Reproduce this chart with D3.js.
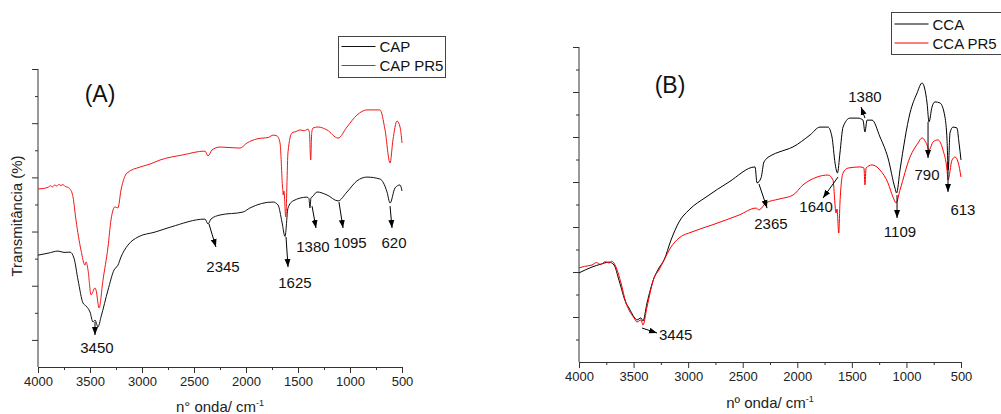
<!DOCTYPE html>
<html>
<head>
<meta charset="utf-8">
<script src="https://cdn.jsdelivr.net/npm/d3@7"></script>
<style>
  body { margin: 0; background: #fff; }
  svg { display: block; font-family: "Liberation Sans", Arial, sans-serif; }
</style>
</head>
<body>
<svg id="chart" width="1001" height="414"></svg>
<script>
// Wavenumber axis (cm-1), shared by both panels
const xTickLabels = [4000, 3500, 3000, 2500, 2000, 1500, 1000, 500];
const xMinorTicks = [3750, 3250, 2750, 2250, 1750, 1250, 750];

// Transmittance ticks (no labels on the original axis)
const yMajorA = [110, 90, 70, 50, 30, 10];
const yMinorA = [100, 80, 60, 40, 20];
const yMajorB = [140, 120, 100, 80, 60, 40, 20];
const yMinorB = [130, 110, 90, 70, 50, 30, 10];

// Panel A spectra: [wavenumber, transmittance]
const capSeries = [[4000,41.3],[3904,42.0],[3808,42.8],[3750,42.3],[3692,42.4],[3654,40.2],[3615,32.1],[3567,23.6],[3538,22.5],[3500,20.3],[3471,16.6],[3452,17.3],[3423,14.8],[3394,18.5],[3327,28.4],[3269,35.8],[3231,37.6],[3202,40.6],[3135,45.0],[3038,48.0],[2875,49.8],[2721,51.7],[2394,54.6],[2365,52.8],[2337,54.6],[2250,56.1],[2029,57.2],[1962,58.7],[1740,60.9],[1692,59.8],[1654,53.5],[1625,48.2],[1596,58.7],[1548,61.3],[1414,62.7],[1395,62.2],[1385,58.7],[1375,62.5],[1365,62.7],[1317,64.6],[1221,63.5],[1115,61.3],[1029,64.6],[933,68.7],[837,70.1],[712,69.4],[644,64.6],[615,60.5],[567,66.1],[519,67.2],[500,65.0]];
const capPr5Series = [[4000,65.7],[3950,65.9],[3904,66.3],[3880,66.9],[3860,66.5],[3840,67.2],[3820,66.8],[3800,67.4],[3780,67.0],[3760,67.3],[3740,66.7],[3712,66.3],[3690,65.6],[3663,62.7],[3635,54.3],[3587,43.2],[3548,37.6],[3538,38.8],[3519,35.8],[3490,26.6],[3452,29.2],[3442,28.4],[3413,21.8],[3375,32.1],[3327,44.3],[3298,54.3],[3260,59.1],[3231,58.7],[3202,65.3],[3144,71.6],[3019,73.8],[2923,74.9],[2827,76.4],[2606,78.3],[2394,79.7],[2365,77.9],[2327,80.1],[2250,81.2],[2058,80.8],[1990,82.7],[1894,84.2],[1780,84.8],[1740,85.6],[1702,85.3],[1673,82.7],[1648,66.0],[1642,63.5],[1635,65.0],[1618,55.4],[1596,79.4],[1558,86.4],[1520,86.9],[1481,87.5],[1440,87.2],[1404,87.8],[1390,86.5],[1378,76.4],[1368,86.5],[1356,88.2],[1308,88.6],[1221,87.5],[1115,84.5],[1029,88.6],[933,93.0],[837,94.9],[712,94.9],[663,87.5],[615,75.3],[587,83.8],[548,90.8],[519,88.6],[500,82.7]];

// Panel B spectra: [wavenumber, transmittance]
const ccaSeries = [[4000,39.6],[3881,42.2],[3800,43.5],[3725,44.4],[3679,43.1],[3634,36.4],[3569,26.2],[3542,24.0],[3496,20.0],[3469,18.7],[3432,19.6],[3414,18.2],[3377,26.2],[3313,37.3],[3267,41.8],[3221,45.3],[3157,54.2],[3084,62.2],[2992,67.6],[2836,73.3],[2626,80.0],[2387,86.7],[2369,79.6],[2332,81.8],[2305,88.9],[2232,92.0],[2168,93.3],[2039,95.6],[1883,100.9],[1792,104.4],[1719,104.4],[1682,100.0],[1654,88.4],[1632,84.0],[1609,92.9],[1581,104.4],[1517,108.4],[1444,108.4],[1398,107.5],[1380,102.2],[1361,107.5],[1315,107.5],[1242,100.0],[1169,90.7],[1105,77.3],[1090,75.1],[1059,85.3],[967,110.7],[903,119.5],[857,124.0],[811,115.1],[793,106.7],[766,113.3],[738,115.6],[692,115.1],[647,108.9],[628,98.7],[617,85.3],[601,101.8],[573,104.4],[537,104.0],[518,97.3],[500,89.8]];
const ccaPr5Series = [[4000,41.8],[3950,42.5],[3881,43.1],[3840,44.2],[3800,43.3],[3760,44.6],[3725,44.0],[3700,44.8],[3661,42.2],[3615,35.1],[3569,26.2],[3542,23.1],[3496,19.6],[3469,17.8],[3432,18.7],[3414,16.4],[3377,24.4],[3313,37.3],[3267,40.9],[3221,45.3],[3157,51.1],[3084,55.1],[2965,57.8],[2781,60.9],[2534,65.3],[2378,68.4],[2351,67.6],[2287,70.7],[2168,72.4],[2039,74.2],[1948,78.7],[1819,82.2],[1719,83.1],[1673,80.9],[1645,66.2],[1636,68.0],[1620,57.3],[1609,70.7],[1581,84.0],[1535,86.2],[1425,86.7],[1389,86.2],[1380,78.7],[1370,86.2],[1315,87.6],[1242,85.3],[1169,79.6],[1123,73.3],[1095,70.7],[1059,76.4],[967,91.1],[894,97.3],[857,99.6],[811,96.4],[793,94.2],[756,97.8],[711,98.7],[665,94.2],[628,85.3],[619,80.9],[582,89.8],[555,91.1],[527,88.9],[500,82.2]];

// Band assignments: arrow tail, arrow tip and label anchor in axis units
const bandsA = [
  { label: "3450", from: [3452, 16.6], to: [3452, 11.8], at: [3433, 5.2] },
  { label: "2345", from: [2356, 52.8], to: [2289, 44.3], at: [2221, 35.1] },
  { label: "1625", from: [1615, 48.0], to: [1596, 36.9], at: [1529, 29.2] },
  { label: "1380", from: [1365, 59.4], to: [1327, 51.3], at: [1356, 42.4] },
  { label: "1095", from: [1106, 60.9], to: [1067, 51.3], at: [1000, 43.9] },
  { label: "620",  from: [615, 59.4],  to: [596, 51.3],  at: [577, 43.9] }
];
const bandsB = [
  { label: "3445", from: [3423, 15.1], to: [3285, 12.9], at: [3267, 9.8], anchor: "start" },
  { label: "2365", from: [2351, 79.1], to: [2277, 68.4], at: [2241, 59.1] },
  { label: "1640", from: [1627, 82.2], to: [1764, 72.9], at: [1828, 66.7] },
  { label: "1380", from: [1380, 108.4], to: [1416, 113.3], at: [1380, 115.6] },
  { label: "1109", from: [1086, 74.2], to: [1086, 64.0], at: [1059, 55.6] },
  { label: "790",  from: [802, 106.7], to: [802, 90.7], at: [811, 80.9] },
  { label: "613",  from: [619, 88.9], to: [619, 75.6], at: [482, 65.3] }
];

const svg = d3.select("#chart");

// arrowhead used by the band arrows
svg.append("defs").append("marker")
  .attr("id", "head")
  .attr("markerUnits", "userSpaceOnUse")
  .attr("markerWidth", 9).attr("markerHeight", 7)
  .attr("refX", 8).attr("refY", 3.5)
  .attr("orient", "auto")
  .append("path").attr("d", "M0,0.5 L8,3.5 L0,6.5 Z").attr("fill", "#000");

function drawPanel(cfg) {
  const x = d3.scaleLinear().domain([4000, 500]).range([cfg.left, cfg.right]);
  const y = d3.scaleLinear().domain(cfg.yDomain).range([cfg.bottom, cfg.top]);
  const g = svg.append("g");
  const axisColor = "#333";

  // bottom axis: labelled major ticks plus unlabelled minor ticks
  const xAxis = d3.axisBottom(x).tickValues(xTickLabels).tickFormat(d3.format("d"))
    .tickSize(6).tickPadding(4).tickSizeOuter(0);
  const gx = g.append("g").attr("transform", `translate(0,${cfg.bottom})`).call(xAxis);
  gx.select(".domain").attr("stroke", axisColor);
  gx.selectAll(".tick line").attr("stroke", axisColor);
  gx.selectAll(".tick text").attr("font-family", "Liberation Sans, Arial, sans-serif")
    .attr("font-size", 13).attr("fill", "#222");
  const gxm = g.append("g").attr("transform", `translate(0,${cfg.bottom})`)
    .call(d3.axisBottom(x).tickValues(xMinorTicks).tickFormat("").tickSize(3).tickSizeOuter(0));
  gxm.select(".domain").remove();
  gxm.selectAll(".tick line").attr("stroke", axisColor);

  // left axis: ticks only
  const gy = g.append("g").attr("transform", `translate(${cfg.left},0)`)
    .call(d3.axisLeft(y).tickValues(cfg.yMajor).tickFormat("").tickSize(6).tickSizeOuter(0));
  gy.select(".domain").attr("stroke", axisColor).attr("d", `M0,${y(cfg.yDomain[1])}V${cfg.bottom}`);
  gy.selectAll(".tick line").attr("stroke", axisColor);
  const gym = g.append("g").attr("transform", `translate(${cfg.left},0)`)
    .call(d3.axisLeft(y).tickValues(cfg.yMinor).tickFormat("").tickSize(3).tickSizeOuter(0));
  gym.select(".domain").remove();
  gym.selectAll(".tick line").attr("stroke", axisColor);

  // spectra
  const line = d3.line().x(d => x(d[0])).y(d => y(d[1])).curve(d3.curveMonotoneX);
  cfg.series.forEach(s => {
    g.append("path").datum(s.data).attr("d", line)
      .attr("fill", "none").attr("stroke", s.color).attr("stroke-width", 1)
      .attr("stroke-linejoin", "round");
  });

  // band arrows and labels
  cfg.bands.forEach(b => {
    g.append("line")
      .attr("x1", x(b.from[0])).attr("y1", y(b.from[1]))
      .attr("x2", x(b.to[0])).attr("y2", y(b.to[1]))
      .attr("stroke", "#000").attr("stroke-width", 1)
      .attr("marker-end", "url(#head)");
    g.append("text").attr("x", x(b.at[0])).attr("y", y(b.at[1]))
      .attr("text-anchor", b.anchor || "middle")
      .attr("font-size", 15).attr("fill", "#111").text(b.label);
  });

  // panel letter
  g.append("text").attr("x", x(cfg.tag.at[0])).attr("y", y(cfg.tag.at[1]))
    .attr("text-anchor", "middle").attr("font-size", 23).attr("fill", "#111").text(cfg.tag.text);

  // x-axis title with superscript
  const t = g.append("text").attr("x", (cfg.left + cfg.right) / 2).attr("y", cfg.titleY)
    .attr("text-anchor", "middle").attr("font-size", 15).attr("fill", "#222");
  t.append("tspan").text(cfg.xTitle);
  t.append("tspan").attr("dy", -6).attr("font-size", 9).text("-1");

  // legend
  const L = cfg.legend;
  g.append("rect").attr("x", L.x).attr("y", L.y).attr("width", L.w).attr("height", L.h)
    .attr("fill", "#fff").attr("stroke", "#444").attr("stroke-width", 1);
  cfg.series.forEach((s, i) => {
    const yy = L.y + L.rowY[i];
    g.append("line").attr("x1", L.x + 3).attr("x2", L.x + 37).attr("y1", yy).attr("y2", yy)
      .attr("stroke", s.color).attr("stroke-width", 1.2);
    g.append("text").attr("x", L.x + 41).attr("y", yy + 5.5)
      .attr("font-size", 15).attr("fill", "#111").text(s.name);
  });
}

drawPanel({
  left: 38, right: 402, top: 69, bottom: 367,
  yDomain: [0, 110], yMajor: yMajorA, yMinor: yMinorA,
  series: [
    { name: "CAP", color: "#111", data: capSeries },
    { name: "CAP PR5", color: "#f01818", data: capPr5Series }
  ],
  bands: bandsA,
  tag: { text: "(A)", at: [3404, 98.0] },
  xTitle: "n° onda/ cm", titleY: 412,
  legend: { x: 338.5, y: 36.5, w: 107, h: 41, rowY: [10, 29] }
});

drawPanel({
  left: 579, right: 961, top: 47, bottom: 362,
  yDomain: [0, 140], yMajor: yMajorB, yMinor: yMinorB,
  series: [
    { name: "CCA", color: "#000", data: ccaSeries },
    { name: "CCA PR5", color: "#ff0000", data: ccaPr5Series }
  ],
  bands: bandsB,
  tag: { text: "(B)", at: [3166, 119.5] },
  xTitle: "nº onda/ cm", titleY: 408,
  legend: { x: 891.5, y: 12.5, w: 120, h: 42, rowY: [11.5, 30.5] }
});

// shared y-axis title
svg.append("text")
  .attr("transform", "translate(22,216) rotate(-90)")
  .attr("text-anchor", "middle").attr("font-size", 15).attr("fill", "#222")
  .text("Transmitância (%)");
</script>
</body>
</html>
